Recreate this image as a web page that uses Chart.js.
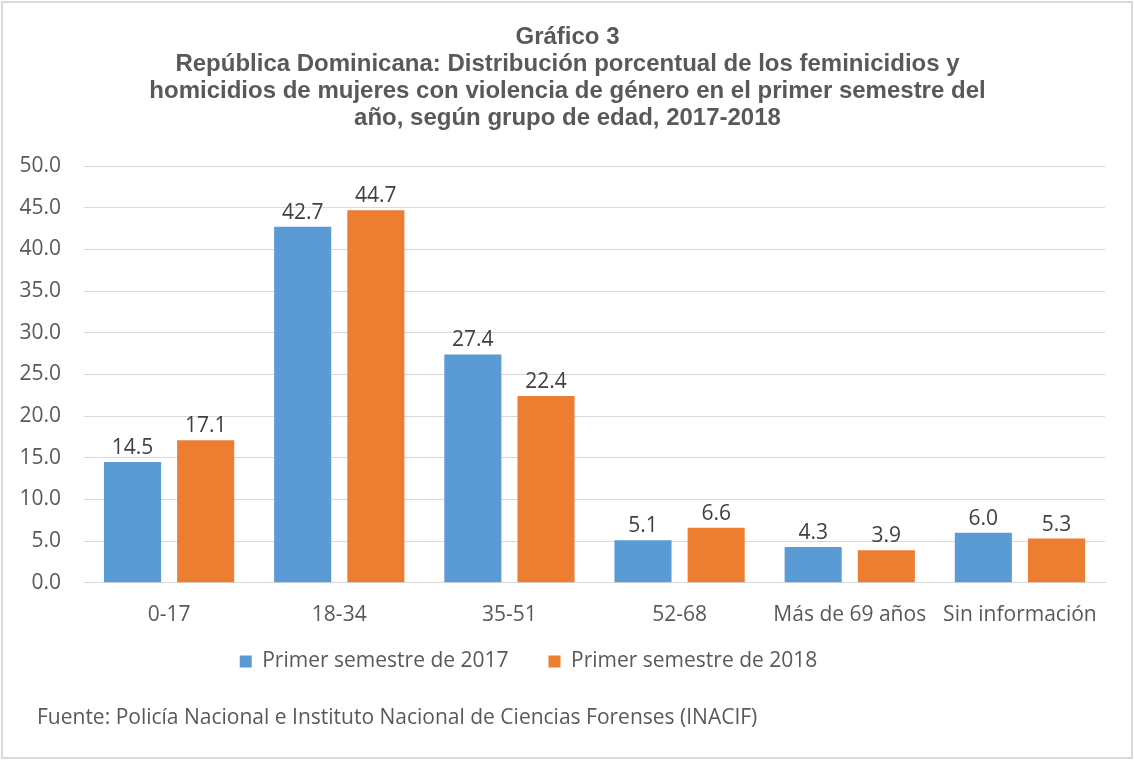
<!DOCTYPE html>
<html lang="es">
<head>
  <meta charset="UTF-8" />
  <title>Gráfico 3</title>
  <style>
    html, body { margin: 0; padding: 0; background: #fff; }
    #wrap { width: 1134px; height: 760px; position: relative; }
  </style>
</head>
<body>
  <div id="wrap"><canvas id="chart" width="1134" height="760"></canvas></div>

  <script src="https://cdn.jsdelivr.net/npm/chart.js@4.4.1/dist/chart.umd.min.js"></script>
  <script>
    // data
    const ageGroups = ['0-17', '18-34', '35-51', '52-68', 'Más de 69 años', 'Sin información'];
    const sem2017 = [14.5, 42.7, 27.4, 5.1, 4.3, 6.0];
    const sem2018 = [17.1, 44.7, 22.4, 6.6, 3.9, 5.3];
    const seriesNames = ['Primer semestre de 2017', 'Primer semestre de 2018'];
    const yTicks = [0, 5, 10, 15, 20, 25, 30, 35, 40, 45, 50];
    const titleLines = [
      'Gráfico 3',
      'República Dominicana: Distribución porcentual de los feminicidios y',
      'homicidios de mujeres con violencia de género en el primer semestre del',
      'año, según grupo de edad, 2017-2018'
    ];
    const sourceNote = 'Fuente: Policía Nacional e Instituto Nacional de Ciencias Forenses (INACIF)';

    const bodyFont = 'Open Sans';
    const bodySize = 21;
    const textGrey = '#595959';

    // value labels above each bar
    const valueLabels = {
      id: 'valueLabels',
      afterDatasetsDraw(chart) {
        const ctx = chart.ctx;
        ctx.save();
        ctx.font = bodySize + 'px "' + bodyFont + '"';
        ctx.fillStyle = '#404040';
        ctx.textAlign = 'center';
        ctx.textBaseline = 'alphabetic';
        chart.data.datasets.forEach((ds, i) => {
          chart.getDatasetMeta(i).data.forEach((bar, j) => {
            ctx.fillText(ds.data[j].toFixed(1), bar.x, bar.y - 8);
          });
        });
        ctx.restore();
      }
    };

    // frame, source note, and small shifts of title/legend to sit like the original
    const frame = {
      id: 'frame',
      afterLayout(chart) {
        if (chart.titleBlock) {
          chart.titleBlock.left += 15;
          chart.titleBlock.right += 15;
        }
        if (chart.legend) {
          chart.legend.left -= 24;
          chart.legend.right -= 24;
          chart.legend.top -= 37;
          chart.legend.bottom -= 37;
        }
      },
      afterDraw(chart) {
        const ctx = chart.ctx;
        ctx.save();
        ctx.font = bodySize + 'px "' + bodyFont + '"';
        ctx.fillStyle = textGrey;
        ctx.textAlign = 'left';
        ctx.textBaseline = 'middle';
        ctx.fillText(sourceNote, 37, 718);
        ctx.strokeStyle = '#d9d9d9';
        ctx.lineWidth = 2;
        ctx.strokeRect(2, 2, chart.width - 4, chart.height - 4);
        ctx.restore();
      }
    };

    new Chart(document.getElementById('chart'), {
      type: 'bar',
      data: {
        labels: ageGroups,
        datasets: [
          { label: seriesNames[0], data: sem2017, backgroundColor: '#5B9BD5' },
          { label: seriesNames[1], data: sem2018, backgroundColor: '#ED7D31' }
        ]
      },
      options: {
        responsive: false,
        animation: false,
        devicePixelRatio: 1,
        categoryPercentage: 0.86,
        barPercentage: 0.78,
        layout: { padding: { left: 0, right: 29, top: 0, bottom: 41 } },
        scales: {
          x: {
            grid: { display: false, drawTicks: false },
            border: { color: '#d9d9d9', width: 1 },
            ticks: { color: textGrey, font: { family: bodyFont, size: bodySize }, padding: 20 }
          },
          y: {
            min: 0,
            max: 50,
            afterBuildTicks(scale) { scale.ticks = yTicks.map(v => ({ value: v })); },
            afterFit(scale) { scale.width = 84; },
            grid: { color: '#d9d9d9', drawTicks: false },
            border: { display: false },
            ticks: {
              color: textGrey,
              font: { family: bodyFont, size: bodySize },
              padding: 23,
              callback: v => v.toFixed(1)
            }
          }
        },
        plugins: {
          title: {
            display: true,
            text: titleLines,
            color: textGrey,
            font: { family: 'Liberation Sans', size: 24, weight: 'bold', lineHeight: 1.125 },
            padding: { top: 23.5, bottom: 34.5 }
          },
          legend: {
            position: 'bottom',
            labels: {
              color: textGrey,
              font: { family: bodyFont, size: bodySize },
              boxWidth: 12,
              boxHeight: 12,
              padding: 40
            }
          },
          tooltip: { enabled: false }
        }
      },
      plugins: [valueLabels, frame]
    });
  </script>
</body>
</html>
